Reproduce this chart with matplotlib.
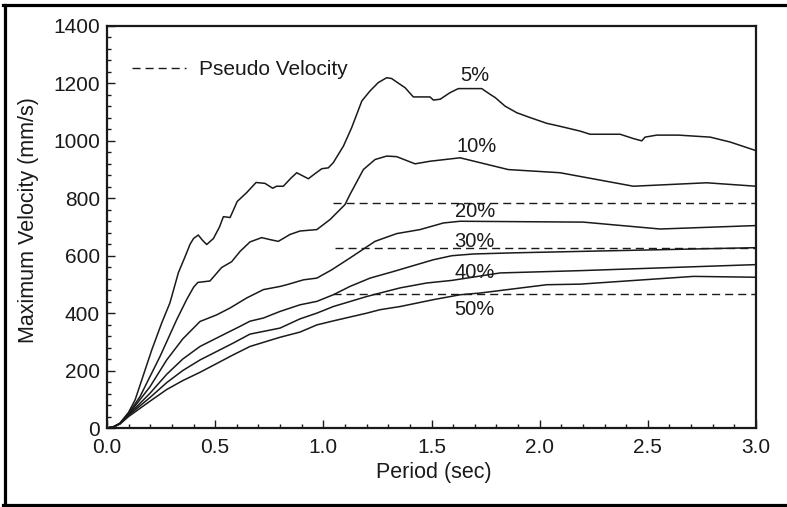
import matplotlib
matplotlib.use("Agg")
import matplotlib.pyplot as plt
from matplotlib.lines import Line2D
from matplotlib.ticker import MultipleLocator

plt.rcParams['font.family'] = ['Liberation Sans', 'DejaVu Sans']

# ---- data ----
p5 = [0, 0.03, 0.06, 0.1, 0.13, 0.153, 0.207, 0.253, 0.291, 0.33, 0.36, 0.384, 0.40, 0.422,
      0.44, 0.461, 0.492, 0.52, 0.538, 0.569, 0.602, 0.646, 0.689, 0.73, 0.766, 0.784, 0.815,
      0.85, 0.877, 0.90, 0.931, 0.96, 0.993, 1.023, 1.046, 1.093, 1.131, 1.178, 1.216, 1.254,
      1.293, 1.316, 1.331, 1.378, 1.416, 1.493, 1.509, 1.540, 1.586, 1.624, 1.732, 1.771,
      1.794, 1.840, 1.894, 1.956, 2.033, 2.087, 2.187, 2.233, 2.372, 2.433, 2.472, 2.487,
      2.541, 2.641, 2.788, 2.880, 3.0]
v5 = [0, 4, 17, 55, 98, 150, 272, 366, 436, 541, 595, 640, 660, 672,
      655, 639, 660, 700, 736, 733, 789, 820, 855, 852, 835, 842, 842,
      870, 889, 880, 868, 885, 903, 906, 924, 982, 1046, 1139, 1174, 1203,
      1220, 1217, 1209, 1185, 1153, 1153, 1142, 1145, 1168, 1182, 1182, 1162,
      1151, 1121, 1098, 1081, 1061, 1052, 1034, 1023, 1023, 1008, 1000, 1013,
      1020, 1020, 1013, 996, 966]

p10 = [0, 0.03, 0.06, 0.1, 0.153, 0.245, 0.322, 0.368, 0.40, 0.42, 0.476, 0.530, 0.576,
       0.615, 0.661, 0.715, 0.754, 0.792, 0.846, 0.892, 0.970, 1.031, 1.100, 1.123, 1.185,
       1.239, 1.293, 1.339, 1.424, 1.493, 1.632, 1.855, 2.094, 2.433, 2.772, 3.0]
v10 = [0, 4, 16, 50, 110, 249, 377, 447, 490, 507, 512, 559, 579,
       615, 648, 663, 656, 650, 674, 686, 691, 726, 778, 813, 900,
       935, 947, 945, 920, 929, 941, 900, 889, 842, 854, 842]

p20 = [0, 0.03, 0.06, 0.1, 0.199, 0.276, 0.35, 0.43, 0.507, 0.569, 0.646, 0.723, 0.8,
       0.831, 0.908, 0.970, 1.039, 1.123, 1.239, 1.339, 1.447, 1.555, 1.632, 2.202, 2.557, 3.0]
v20 = [0, 4, 16, 48, 144, 237, 310, 371, 394, 418, 453, 482, 493,
       499, 516, 522, 551, 592, 650, 677, 691, 714, 720, 717, 693, 705]

p30 = [0, 0.03, 0.06, 0.1, 0.2, 0.276, 0.35, 0.43, 0.522, 0.615, 0.661, 0.723, 0.8, 0.892,
       0.970, 1.046, 1.123, 1.216, 1.324, 1.432, 1.509, 1.594, 1.693, 1.879, 2.187, 3.0]
v30 = [0, 4, 15, 46, 122, 187, 240, 284, 319, 354, 372, 383, 406, 429,
       441, 464, 493, 522, 545, 569, 586, 600, 606, 610, 615, 628]

p40 = [0, 0.03, 0.06, 0.1, 0.2, 0.276, 0.35, 0.43, 0.584, 0.661, 0.8, 0.892, 0.970, 1.046,
       1.201, 1.262, 1.355, 1.478, 1.594, 1.817, 2.187, 3.0]
v40 = [0, 4, 15, 44, 107, 158, 200, 237, 296, 327, 348, 380, 400, 423,
       458, 470, 488, 505, 514, 540, 548, 569]

p50 = [0, 0.03, 0.06, 0.1, 0.2, 0.276, 0.35, 0.43, 0.584, 0.661, 0.8, 0.892, 0.970, 1.046,
       1.201, 1.262, 1.355, 1.509, 1.632, 1.724, 2.033, 2.187, 2.711, 3.0]
v50 = [0, 4, 14, 40, 94, 134, 165, 194, 255, 284, 316, 334, 359, 373,
       400, 412, 423, 447, 464, 470, 499, 501, 528, 525]

curves = [(p5, v5), (p10, v10), (p20, v20), (p30, v30), (p40, v40), (p50, v50)]

curve_labels = ["5%", "10%", "20%", "30%", "40%", "50%"]
label_x = [1.70, 1.71, 1.70, 1.70, 1.70, 1.70]
label_y = [1228, 982, 755, 650, 542, 412]

pseudo_start = [1.046, 1.054, 1.045]
pseudo_level = [783, 626, 467]
pseudo_end = 3.0

# ---- figure ----
fig = plt.figure(figsize=(7.87, 5.07), dpi=100)
ax = fig.add_axes([107/787, 1-428/507, (756-107)/787, (428-26)/507])

for p, v in curves:
    ax.plot(p, v, color='#1a1a1a', lw=1.1, solid_joinstyle='round')

for s, lvl in zip(pseudo_start, pseudo_level):
    ax.plot([s, pseudo_end], [lvl, lvl], color='#1a1a1a', lw=1.0,
            dashes=(5.8, 3.6))

for t, x, y in zip(curve_labels, label_x, label_y):
    ax.text(x, y, t, ha='center', va='center', fontsize=14.5, color='#1a1a1a')

handle = Line2D([], [], color='#1a1a1a', lw=1.0, dashes=(5.8, 3.6))
ax.legend([handle], ["Pseudo Velocity"], loc='center left',
          bbox_to_anchor=(0.0385, 0.892), frameon=False, borderpad=0,
          borderaxespad=0, handlelength=2.6, handletextpad=0.6, fontsize=15,
          labelcolor='#1a1a1a')

ax.set_xlim(0, 3.0)
ax.set_ylim(0, 1400)
ax.xaxis.set_major_locator(MultipleLocator(0.5))
ax.xaxis.set_minor_locator(MultipleLocator(0.1))
ax.yaxis.set_major_locator(MultipleLocator(200))
ax.yaxis.set_minor_locator(MultipleLocator(40))
ax.xaxis.set_major_formatter(matplotlib.ticker.FormatStrFormatter('%.1f'))

ax.tick_params(which='both', direction='in', top=False, right=False,
               width=1.0, color='#1a1a1a', labelsize=15, labelcolor='#1a1a1a')
ax.tick_params(which='major', length=5.5)
ax.tick_params(which='minor', length=3.0)
ax.tick_params(axis='x', which='major', pad=7)
ax.tick_params(axis='y', which='major', pad=5)

for sp in ax.spines.values():
    sp.set_linewidth(1.6)
    sp.set_color('#1a1a1a')

ax.set_xlabel("Period (sec)", fontsize=15.5, color='#1a1a1a')
ax.set_ylabel("Maximum Velocity (mm/s)", fontsize=15.5, color='#1a1a1a')
ax.xaxis.set_label_coords(0.503, -0.085)
ax.yaxis.set_label_coords(-0.105, 0.517)

# outer frame (left, top, bottom)
fw = 2.3
fig.add_artist(Line2D([4.5/787, 4.5/787], [1-4.5/507, 1-505/507], transform=fig.transFigure,
                      color='black', lw=fw))
fig.add_artist(Line2D([3/787, 1.0], [1-4.5/507, 1-4.5/507], transform=fig.transFigure,
                      color='black', lw=fw))
fig.add_artist(Line2D([3/787, 1.0], [1-505/507, 1-505/507], transform=fig.transFigure,
                      color='black', lw=fw))

fig.savefig("out.png", dpi=100)
